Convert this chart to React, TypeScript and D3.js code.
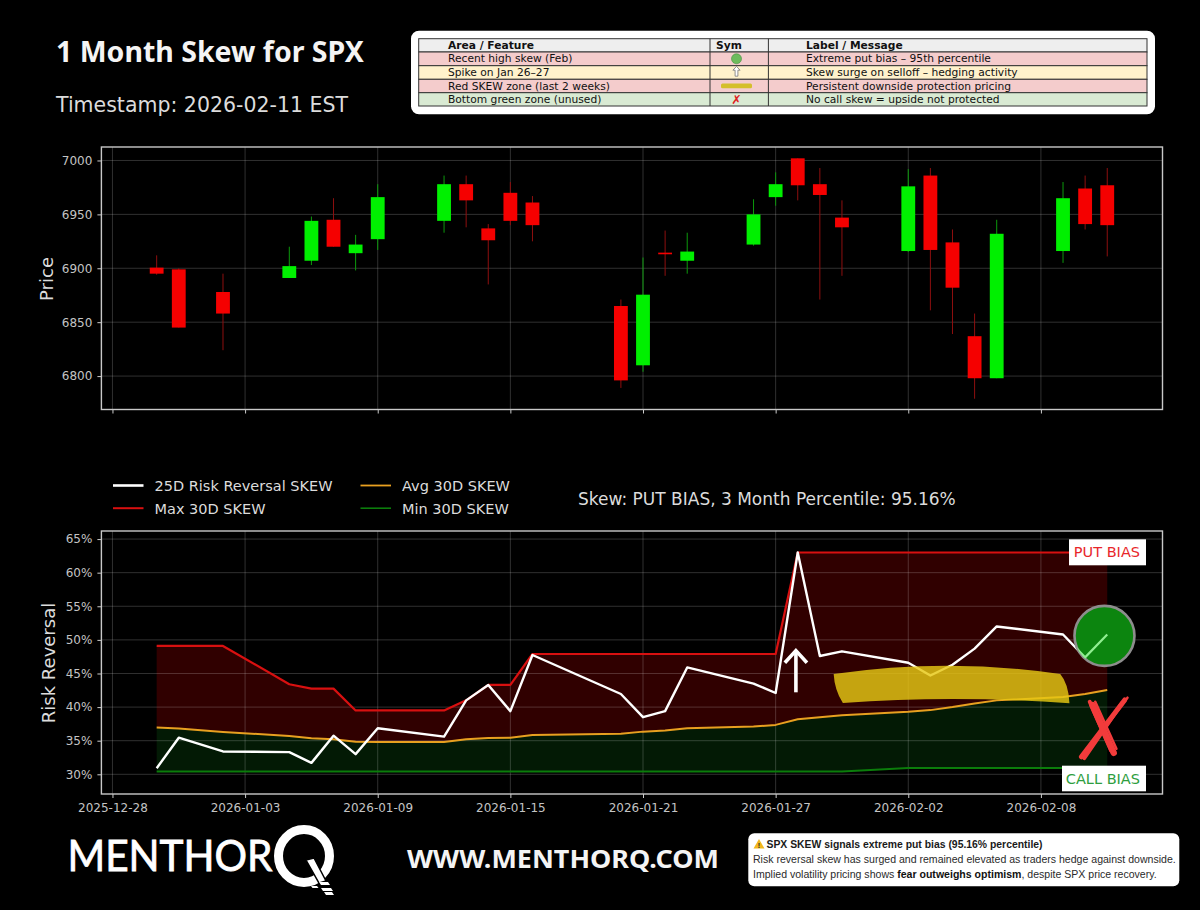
import * as d3 from 'd3';
import * as React from 'react';

const { useRef, useEffect } = React;

const width = 1200;
const height = 910;
const sans = '"DejaVu Sans", sans-serif';

// trading days shared by both panels
const dates = [
  '2025-12-30', '2025-12-31', '2026-01-02', '2026-01-05', '2026-01-06', '2026-01-07',
  '2026-01-08', '2026-01-09', '2026-01-12', '2026-01-13', '2026-01-14', '2026-01-15',
  '2026-01-16', '2026-01-20', '2026-01-21', '2026-01-22', '2026-01-23', '2026-01-26',
  '2026-01-27', '2026-01-28', '2026-01-29', '2026-01-30', '2026-02-02', '2026-02-03',
  '2026-02-04', '2026-02-05', '2026-02-06', '2026-02-09', '2026-02-10', '2026-02-11',
];
const tickDates = [
  '2025-12-28', '2026-01-03', '2026-01-09', '2026-01-15',
  '2026-01-21', '2026-01-27', '2026-02-02', '2026-02-08',
];

const opens = [
  6900.6, 6899, 6878, 6891, 6907, 6945, 6914, 6927, 6944, 6978, 6937, 6970, 6961, 6865, 6810,
  6914.5, 6907, 6922, 6966, 7002, 6978, 6947, 6916, 6986, 6924, 6837, 6798, 6916, 6974, 6977,
];
const closes = [
  6895, 6845, 6858, 6902, 6944, 6920, 6922, 6966, 6978, 6963, 6926, 6944, 6940, 6796, 6875.5,
  6913, 6915.5, 6950, 6978, 6977, 6968, 6938, 6976, 6917, 6882, 6798, 6932, 6965, 6941, 6940,
];
const highs = [
  6912, 6900, 6895, 6920, 6948, 6965, 6931, 6978, 6986, 6986, 6941, 6980, 6967, 6871, 6910,
  6935, 6933, 6964, 6989, 7002, 6993, 6963, 6992, 6993, 6936, 6858, 6945, 6980, 6986, 6993,
];
const lows = [
  6894, 6845, 6824, 6891, 6903, 6920, 6898, 6917, 6933, 6938, 6885, 6940, 6925, 6789, 6804,
  6893, 6895, 6921, 6958, 6963, 6871, 6893, 6915, 6861, 6839, 6779, 6798, 6905, 6936, 6911,
];

const riskReversal = [
  30.9, 35.45, 33.4, 33.3, 31.7, 35.75, 33, 36.85, 35.6, 41, 43.3, 39.4, 47.75, 41.95, 38.5,
  39.4, 45.9, 43.5, 42.1, 63, 47.6, 48.3, 46.6, 44.7, 46.3, 48.7, 52, 50.8, 47.4, 50.8,
];
const maxSkew = [
  49.1, 49.1, 49.1, 43.4, 42.75, 42.75, 39.5, 39.5, 39.5, 41, 43.3, 43.3, 47.9, 47.9, 47.9,
  47.9, 47.9, 47.9, 47.9, 63, 63, 63, 63, 63, 63, 63, 63, 63, 63, 63,
];
const avgSkew = [
  36.95, 36.8, 36.3, 35.7, 35.35, 35.2, 34.85, 34.8, 34.8, 35.2, 35.4, 35.45, 35.85, 36.05, 36.35,
  36.5, 36.85, 37.1, 37.35, 38.2, 38.5, 38.8, 39.3, 39.55, 40, 40.55, 41, 41.5, 41.95, 42.55,
];
const minSkew = [
  30.4, 30.4, 30.4, 30.4, 30.4, 30.4, 30.4, 30.4, 30.4, 30.4, 30.4, 30.4, 30.4, 30.4, 30.4,
  30.4, 30.4, 30.4, 30.4, 30.4, 30.4, 30.4, 30.95, 30.95, 30.95, 30.95, 30.95, 30.95, 30.95, 30.95,
];

const priceTicks = [6800, 6850, 6900, 6950, 7000];
const skewTicks = [30, 35, 40, 45, 50, 55, 60, 65];

const tableHeader = ['Area / Feature', 'Sym', 'Label / Message'];
const tableFeatures = ['Recent high skew (Feb)', 'Spike on Jan 26–27', 'Red SKEW zone (last 2 weeks)', 'Bottom green zone (unused)'];
const tableMessages = [
  'Extreme put bias – 95th percentile',
  'Skew surge on selloff – hedging activity',
  'Persistent downside protection pricing',
  'No call skew = upside not protected',
];
const tableColors = ['#f4cccc', '#fff2cc', '#f4cccc', '#d9ead3'];

const legendItems = [
  { name: '25D Risk Reversal SKEW', color: '#ffffff', w: 2.6, col: 0, row: 0 },
  { name: 'Max 30D SKEW', color: '#d81010', w: 2, col: 0, row: 1 },
  { name: 'Avg 30D SKEW', color: '#e8a020', w: 1.8, col: 1, row: 0 },
  { name: 'Min 30D SKEW', color: '#0b7d0b', w: 1.6, col: 1, row: 1 },
];

const parse = d3.utcParse('%Y-%m-%d') as (s: string) => Date;
const days = dates.map(parse);
const dayZero = parse('2025-12-28');
const onDay = (n: number) => d3.utcHour.offset(dayZero, n * 24);

const x = d3.scaleUtc().domain([onDay(-0.47), onDay(47.5)]).range([101.4, 1162.5]);
const yPrice = d3.scaleLinear().domain([6769, 7012.5]).range([409.5, 147]);
const ySkew = d3.scaleLinear().domain([27.07, 66.2]).range([794, 531]);

type Sel = d3.Selection<any, any, any, any>;

function panel(svg: Sel, y: d3.ScaleLinear<number, number>, yTicks: number[], fmt: (v: number) => string, showDates: boolean) {
  const [x0, x1] = x.range();
  const [y0, y1] = y.range();
  const tickVals = tickDates.map(parse);

  const grid = svg.append('g').attr('stroke', '#fff').attr('stroke-opacity', 0.19).attr('stroke-width', 1);
  grid.selectAll('.v').data(tickVals).join('line').attr('x1', d => x(d)).attr('x2', d => x(d)).attr('y1', y0).attr('y2', y1);
  grid.selectAll('.h').data(yTicks).join('line').attr('x1', x0).attr('x2', x1).attr('y1', d => y(d)).attr('y2', d => y(d));

  const xAxis = d3.axisBottom(x).tickValues(tickVals).tickSize(4).tickSizeOuter(0).tickPadding(5)
    .tickFormat(d => (showDates ? d3.utcFormat('%Y-%m-%d')(d as Date) : ''));
  const yAxis = d3.axisLeft(y).tickValues(yTicks).tickSize(4).tickSizeOuter(0).tickPadding(5).tickFormat(d => fmt(d as number));

  const axes = svg.append('g');
  const gx = axes.append('g').attr('transform', `translate(0,${y0})`).call(xAxis);
  const gy = axes.append('g').attr('transform', `translate(${x0},0)`).call(yAxis);
  [gx, gy].forEach(g => {
    g.select('.domain').remove();
    g.selectAll('line').attr('stroke', '#ccc');
    g.selectAll('text').attr('fill', '#c4c4c4').style('font', `12px ${sans}`);
  });
}

function frame(svg: Sel, y: d3.ScaleLinear<number, number>) {
  const [x0, x1] = x.range();
  const [y0, y1] = y.range();
  svg.append('rect').attr('x', x0).attr('y', y1).attr('width', x1 - x0).attr('height', y0 - y1)
    .attr('fill', 'none').attr('stroke', '#c8c8c8').attr('stroke-width', 1.4);
}

function drawPrice(svg: Sel) {
  panel(svg, yPrice, priceTicks, v => String(v), false);
  const bw = x(onDay(0.63)) - x(onDay(0));
  const g = svg.append('g').selectAll('g').data(days).join('g');
  const up = (i: number) => closes[i] >= opens[i];
  g.append('line')
    .attr('x1', d => x(d)).attr('x2', d => x(d))
    .attr('y1', (d, i) => yPrice(highs[i])).attr('y2', (d, i) => yPrice(lows[i]))
    .attr('stroke', (d, i) => (up(i) ? '#0c9a0c' : '#8e0f0f')).attr('stroke-width', 1);
  g.append('rect')
    .attr('x', d => x(d) - bw / 2).attr('width', bw)
    .attr('y', (d, i) => yPrice(Math.max(opens[i], closes[i])))
    .attr('height', (d, i) => Math.max(1.5, Math.abs(yPrice(opens[i]) - yPrice(closes[i]))))
    .attr('fill', (d, i) => (up(i) ? '#00f000' : '#f50000'));
  frame(svg, yPrice);
  svg.append('text').attr('transform', 'translate(53,279) rotate(-90)').attr('text-anchor', 'middle')
    .attr('fill', '#dcdcdc').style('font', `18px ${sans}`).text('Price');
}

function drawSkew(svg: Sel) {
  const area = (top: number[], bottom: number[]) =>
    d3.area<Date>().x(d => x(d)).y0((d, i) => ySkew(bottom[i])).y1((d, i) => ySkew(top[i]))(days);
  svg.append('path').attr('d', area(maxSkew, avgSkew)).attr('fill', '#300000');
  svg.append('path').attr('d', area(avgSkew, minSkew)).attr('fill', '#031a05');

  panel(svg, ySkew, skewTicks, v => `${v}%`, true);

  const line = (vals: number[]) => d3.line<Date>().x(d => x(d)).y((d, i) => ySkew(vals[i]))(days);
  const path = (vals: number[], color: string, w: number) =>
    svg.append('path').attr('d', line(vals)).attr('fill', 'none').attr('stroke', color).attr('stroke-width', w).attr('stroke-linejoin', 'round');
  path(maxSkew, '#d81010', 2.2);
  path(minSkew, '#0b7d0b', 2);
  path(avgSkew, '#e8a020', 2);
  path(riskReversal, '#ffffff', 2.4);

  frame(svg, ySkew);

  // annotations, placed in day / percent space
  const px = (n: number) => x(onDay(n));
  const py = (v: number) => ySkew(v);

  // yellow band
  const band = d3.path();
  band.moveTo(px(32.64), py(44.93));
  band.quadraticCurveTo(px(37.8), py(47.4), px(42.9), py(44.93));
  band.quadraticCurveTo(px(43.25), py(43.5), px(43.3), py(40.57));
  band.quadraticCurveTo(px(38), py(41.8), px(33.05), py(40.6));
  band.quadraticCurveTo(px(32.7), py(42.5), px(32.64), py(44.93));
  band.closePath();
  svg.append('path').attr('d', band.toString()).attr('fill', '#e6c814').attr('fill-opacity', 0.82);

  // white up arrow
  const arrow = svg.append('g').attr('fill', 'none').attr('stroke', '#fff').attr('stroke-width', 3.6);
  arrow.append('line').attr('x1', px(30.93)).attr('x2', px(30.93)).attr('y1', py(42.2)).attr('y2', py(48.3));
  arrow.append('path').attr('d', d3.line()([[px(30.44), py(46.6)], [px(30.93), py(48.4)], [px(31.42), py(46.6)]]));

  // green circle on the last value
  const cx = px(44.88);
  const cy = py(50.6);
  svg.append('clipPath').attr('id', 'circleClip').append('circle').attr('cx', cx).attr('cy', cy).attr('r', 30);
  svg.append('circle').attr('cx', cx).attr('cy', cy).attr('r', 30)
    .attr('fill', '#0c850f').attr('stroke', '#8d8d8d').attr('stroke-width', 2.6);
  svg.append('path').attr('d', line(riskReversal)).attr('fill', 'none').attr('stroke', '#90ee90')
    .attr('stroke-width', 2.2).attr('clip-path', 'url(#circleClip)');

  // red cross
  const cross = svg.append('g').attr('fill', 'none').attr('stroke', '#f23b3b').attr('stroke-linecap', 'round');
  const crossArms: [number, number, number, number, number][] = [
    [43.85, 32.6, 45.82, 41.06, 5],
    [43.98, 32.4, 45.7, 40.6, 4],
    [44.1, 33.6, 45.95, 41.4, 2.5],
    [44.34, 40.3, 45.32, 33.2, 6.5],
    [44.22, 40.8, 45.2, 33.6, 4],
    [44.46, 40.8, 45.42, 33.8, 2.5],
  ];
  crossArms.forEach(([a, b, c, d, w]) => {
    cross.append('line').attr('x1', px(a)).attr('y1', py(b)).attr('x2', px(c)).attr('y2', py(d)).attr('stroke-width', w);
  });

  // bias labels
  const label = (bx: number, by: number, bw: number, bh: number, txt: string, color: string) => {
    svg.append('rect').attr('x', bx).attr('y', by).attr('width', bw).attr('height', bh).attr('fill', '#fff');
    svg.append('text').attr('x', bx + bw - 6).attr('y', by + bh / 2 + 5).attr('text-anchor', 'end')
      .attr('fill', color).style('font', `14.5px ${sans}`).text(txt);
  };
  label(1069, 539.3, 77, 26, 'PUT BIAS', '#e8262a');
  label(1062, 765.7, 84, 25.6, 'CALL BIAS', '#2e9e3e');

  svg.append('text').attr('transform', 'translate(55,663) rotate(-90)').attr('text-anchor', 'middle')
    .attr('fill', '#dcdcdc').style('font', `18px ${sans}`).text('Risk Reversal');

  // legend
  const lg = svg.append('g').selectAll('g').data(legendItems).join('g')
    .attr('transform', d => `translate(${113 + d.col * 247.5},${485.5 + d.row * 22.7})`);
  lg.append('line').attr('x2', 30.5).attr('stroke', d => d.color).attr('stroke-width', d => d.w);
  lg.append('text').attr('x', 41.5).attr('y', 5.3).attr('fill', '#dcdcdc').style('font', `14.5px ${sans}`).text(d => d.name);

  svg.append('text').attr('x', 578).attr('y', 505).attr('fill', '#dcdcdc').style('font', `17px ${sans}`)
    .text('Skew: PUT BIAS, 3 Month Percentile: 95.16%');
}

function drawHeader(svg: Sel) {
  svg.append('text').attr('x', 56).attr('y', 62).attr('fill', '#f4f4f4')
    .style('font', '700 28.5px "Noto Sans", sans-serif').text('1 Month Skew for SPX');
  svg.append('text').attr('x', 56).attr('y', 112).attr('fill', '#dcdcdc')
    .style('font', `20.5px ${sans}`).text('Timestamp: 2026-02-11 EST');

  svg.append('rect').attr('x', 411).attr('y', 30.7).attr('width', 744).attr('height', 83.6).attr('rx', 8).attr('fill', '#fff');

  const rowY = [38.7, 52, 65.7, 79.3, 92.7, 106];
  const left = 418.7;
  const right = 1147;
  const colA = 710;
  const colB = 768.4;
  const t = svg.append('g');
  rowY.slice(0, -1).forEach((ry, i) => {
    t.append('rect').attr('x', left).attr('y', ry).attr('width', right - left).attr('height', rowY[i + 1] - ry)
      .attr('fill', i === 0 ? '#eeeeee' : tableColors[i - 1]).attr('stroke', '#333').attr('stroke-width', 1);
  });
  [colA, colB].forEach(cx => {
    t.append('line').attr('x1', cx).attr('x2', cx).attr('y1', rowY[0]).attr('y2', rowY[5]).attr('stroke', '#333');
  });
  const cell = (tx: number, ty: number, s: string, bold: boolean, anchor = 'start') =>
    t.append('text').attr('x', tx).attr('y', ty).attr('text-anchor', anchor).attr('fill', '#111')
      .style('font', `${bold ? 700 : 400} 10.7px ${sans}`).text(s);
  cell(448, rowY[0] + 10, tableHeader[0], true);
  cell(729, rowY[0] + 10, tableHeader[1], true, 'middle');
  cell(806, rowY[0] + 10, tableHeader[2], true);
  tableFeatures.forEach((s, i) => cell(448, rowY[i + 1] + 10.2, s, false));
  tableMessages.forEach((s, i) => cell(806, rowY[i + 1] + 10.2, s, false));

  const sx = 736.5;
  t.append('circle').attr('cx', sx).attr('cy', 58.8).attr('r', 5).attr('fill', '#6dbb5c').attr('stroke', '#3f8f3f').attr('stroke-width', 0.6);
  t.append('path').attr('d', `M${sx},66.4 l3.6,3.8 h-2.2 v6 h-2.8 v-6 h-2.2 Z`).attr('fill', '#fff').attr('stroke', '#777').attr('stroke-width', 0.8);
  t.append('rect').attr('x', sx - 15.5).attr('y', 83.6).attr('width', 31).attr('height', 4.6).attr('rx', 1.5).attr('fill', '#d4bf2a');
  t.append('text').attr('x', sx).attr('y', 104).attr('text-anchor', 'middle').attr('fill', '#e02020')
    .style('font', `12.5px ${sans}`).text('✗');
}

function drawFooter(svg: Sel) {
  svg.append('text').attr('x', 67.5).attr('y', 871).attr('fill', '#fff').attr('stroke', '#fff').attr('stroke-width', 0.8)
    .attr('textLength', 205).attr('lengthAdjust', 'spacingAndGlyphs')
    .style('font', '400 43px Lato, sans-serif').text('MENTHOR');

  // the Q of the logo
  const q = svg.append('g');
  q.append('ellipse').attr('cx', 304).attr('cy', 856).attr('rx', 25.5).attr('ry', 26.5)
    .attr('fill', 'none').attr('stroke', '#fff').attr('stroke-width', 9);
  q.append('path').attr('d', 'M306,860 L314,858 L326,881 L319,883 Z').attr('fill', '#fff').attr('stroke', '#000').attr('stroke-width', 1.5);
  q.append('path').attr('d', 'M319,882 h9 l2,3 h-9 Z M321,888 h10 l2,3 h-10 Z M324,892 h8 l2,3 h-8 Z M311,886 h6 l1.5,2 h-6 Z').attr('fill', '#fff');

  svg.append('text').attr('x', 407).attr('y', 868).attr('fill', '#f4f4f4').attr('textLength', 312).attr('lengthAdjust', 'spacingAndGlyphs')
    .style('font', '700 25px "Noto Sans", sans-serif').text('WWW.MENTHORQ.COM');

  svg.append('rect').attr('x', 748.3).attr('y', 833.3).attr('width', 431).attr('height', 53).attr('rx', 6).attr('fill', '#fff');
  svg.append('path').attr('d', 'M759,839 L764.5,848.5 H753.5 Z').attr('fill', '#f2b71c');
  svg.append('text').attr('x', 759).attr('y', 847.7).attr('text-anchor', 'middle').attr('fill', '#222').style('font', '700 7px "Liberation Sans", sans-serif').text('!');

  const noteFont = '"Liberation Sans", sans-serif';
  svg.append('text').attr('x', 766.5).attr('y', 847.7).attr('fill', '#1a1a1a').style('font', `700 10.4px ${noteFont}`)
    .text('SPX SKEW signals extreme put bias (95.16% percentile)');
  svg.append('text').attr('x', 753).attr('y', 862.7).attr('fill', '#2a2a2a').style('font', `400 10.55px ${noteFont}`)
    .text('Risk reversal skew has surged and remained elevated as traders hedge against downside.');
  const last = svg.append('text').attr('x', 753).attr('y', 878).attr('fill', '#2a2a2a').style('font', `400 10.55px ${noteFont}`);
  last.append('tspan').text('Implied volatility pricing shows ');
  last.append('tspan').attr('font-weight', 700).attr('fill', '#111').text('fear outweighs optimism');
  last.append('tspan').text(', despite SPX price recovery.');
}

export default function App() {
  const rootRef = useRef<SVGSVGElement>(null);

  useEffect(() => {
    if (!rootRef.current) {
      return;
    }
    const svg = d3.select(rootRef.current);
    svg.selectAll('*').remove();
    drawHeader(svg);
    drawPrice(svg);
    drawSkew(svg);
    drawFooter(svg);
  }, []);

  return (
    <svg
      ref={rootRef}
      width={width}
      height={height}
      viewBox={`0 0 ${width} ${height}`}
      style={{ position: 'absolute', left: 0, top: 0, display: 'block', background: '#000' }}
    />
  );
}
